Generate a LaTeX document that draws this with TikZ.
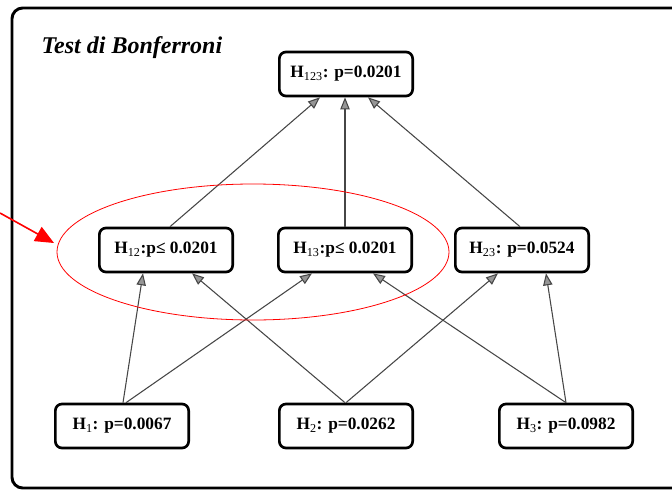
\documentclass[tikz,border=0pt]{standalone}
\usepackage{fontspec}
\setmainfont{Liberation Serif}
\usetikzlibrary{arrows.meta,calc}
\definecolor{lnk}{RGB}{70,70,70}
\definecolor{hd}{RGB}{150,150,150}
\tikzset{
  hyp/.style={rectangle,rounded corners=5pt,draw=black,line width=2pt,fill=white,
    minimum width=100pt,minimum height=33pt,inner sep=2pt,
    font=\fontsize{13}{15}\selectfont\bfseries},
  imp/.style={-{Triangle[length=9pt,width=7pt,fill=hd]},draw=lnk,line width=0.8pt},
  pointer/.style={-{Triangle[length=14pt,width=12pt]},draw=red,fill=red,line width=1.2pt},
}
\newcommand{\sub}[1]{\textsubscript{\mdseries #1}}
\begin{document}
\begin{tikzpicture}[x=0.75pt,y=-0.75pt]
\clip (0,0) rectangle (672,490);
\useasboundingbox (0,0) rectangle (672,490);

% frame and title
\draw[line width=2.2pt,rounded corners=8pt] (12,488) rectangle (700,8);
\node[anchor=base west,font=\fontsize{18}{20}\selectfont\bfseries\itshape] (title) at (37,53) {Test di Bonferroni};

% --- global hypothesis ---
\node[hyp] (H123) at (346,74) {H\sub{123}: p=0.0201};

% --- pairwise intersections ---
\node[hyp] (H12) at (166,250) {H\sub{12}:p≤ 0.0201};
\node[hyp] (H13) at (345,250) {H\sub{13}:p≤ 0.0201};
\node[hyp] (H23) at (522,250) {H\sub{23}: p=0.0524};

% --- elementary hypotheses ---
\node[hyp] (H1) at (122,426) {H\sub{1}: p=0.0067};
\node[hyp] (H2) at (346,426) {H\sub{2}: p=0.0262};
\node[hyp] (H3) at (566,426) {H\sub{3}: p=0.0982};

% implications, middle row to top
\draw[imp] ($(H12.north)+(4,0)$) -- ($(H123.south)+(-26,0)$);
\draw[imp] (H13.north) -- (H13.north |- H123.south);
\draw[imp] ($(H23.north)+(-2,0)$) -- ($(H123.south)+(22,0)$);

% implications, bottom row to middle
\draw[imp] ($(H1.north)+(1,0)$) -- ($(H12.south)+(-23,0)$);
\draw[imp] ($(H1.north)+(4,0)$) -- ($(H13.south)+(-33,0)$);
\draw[imp] ($(H2.north)+(-1,0)$) -- ($(H12.south)+(26,0)$);
\draw[imp] (H2.north) -- ($(H23.south)+(-24,0)$);
\draw[imp] (H3.north) -- ($(H13.south)+(28,0)$);
\draw[imp] (H3.north) -- ($(H23.south)+(24,0)$);

% highlight of the rejected pair
\draw[red,line width=0.6pt] (253,252) ellipse [x radius=196, y radius=68];
\coordinate (from) at (0,213);
\coordinate (tip) at (54,243);
\draw[pointer] (from) -- (tip);
\end{tikzpicture}
\end{document}
